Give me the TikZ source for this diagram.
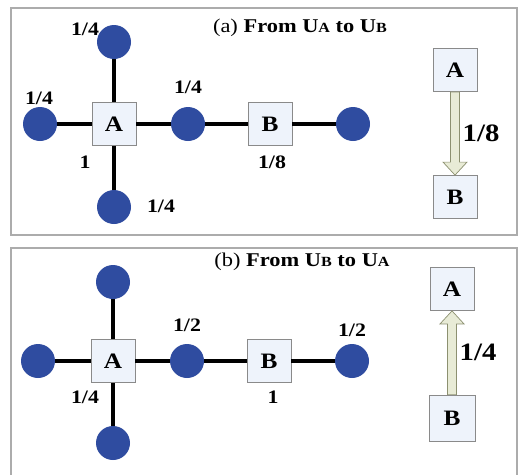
\documentclass[tikz,border=0pt]{standalone}
\usepackage{fontspec}
\setmainfont[FakeStretch=1.15]{Liberation Serif}
\usetikzlibrary{calc}
\definecolor{dotblue}{HTML}{2F4CA0}
\definecolor{boxfill}{HTML}{EEF3FB}
\definecolor{boxline}{HTML}{8A8A8A}
\definecolor{arrfill}{HTML}{E8EBD6}
\definecolor{arrline}{HTML}{8C9070}
\newcommand{\smc}[1]{{\fontsize{14}{14}\selectfont #1}}
\begin{document}
\begin{tikzpicture}[x=1pt,y=-1pt,
  dot/.style={circle,fill=dotblue,draw=none,minimum size=34pt,inner sep=0pt},
  sq/.style={rectangle,fill=boxfill,draw=boxline,line width=0.8pt,minimum width=44pt,minimum height=43pt,inner sep=0pt,font=\fontsize{22}{22}\selectfont\bfseries},
  edge/.style={line width=3.2pt,black},
  lbl/.style={inner sep=0pt,font=\fontsize{19}{19}\selectfont\bfseries},
  biglbl/.style={inner sep=0pt,font=\fontsize{25}{25}\selectfont\bfseries},
  ttl/.style={inner sep=0pt,font=\fontsize{19.5}{19.5}\selectfont},
  panel/.style={draw=gray!65,line width=1.2pt},
  fatarrow/.style={fill=arrfill,draw=arrline,line width=0.7pt,line join=miter}]
\useasboundingbox (0,0) rectangle (519,474);
\clip (0,0) rectangle (519,474);
% panels
\draw[panel] (11,8) rectangle (517,235);
\draw[panel] (11,248) rectangle (517,480);

% ---------- panel (a) ----------
\node[ttl] (ta) at (300,28) {(a) \textbf{From U\smc{A} to U\smc{B}}};
\node[dot] (at) at (114,42) {};
\node[dot] (al) at (40,124) {};
\node[dot] (ab) at (114,207) {};
\node[dot] (am) at (188,124) {};
\node[dot] (ar) at (353,124) {};
\node[sq] (aA) at (114,124) {A};
\node[sq] (aB) at (270,124) {B};
\draw[edge] (aA) -- (at);
\draw[edge] (aA) -- (al);
\draw[edge] (aA) -- (ab);
\draw[edge] (aA) -- (am);
\draw[edge] (am) -- (aB);
\draw[edge] (aB) -- (ar);
\node[lbl] (la1) at (85,29) {1/4};
\node[lbl] (la2) at (39,98) {1/4};
\node[lbl] (la3) at (85,162) {1};
\node[lbl] (la4) at (188,87) {1/4};
\node[lbl] (la5) at (272,162) {1/8};
\node[lbl] (la6) at (161,206) {1/4};
\node[sq] (xA) at (455,70) {A};
\node[sq] (xB) at (455,197) {B};
\draw[fatarrow] ([xshift=-4.5pt]xA.south) -- ([xshift=-4.5pt,yshift=13pt]xB.north)
  -- ([xshift=-12pt,yshift=13pt]xB.north) -- (xB.north)
  -- ([xshift=12pt,yshift=13pt]xB.north) -- ([xshift=4.5pt,yshift=13pt]xB.north)
  -- ([xshift=4.5pt]xA.south) -- cycle;
\node[biglbl] (xl) at (481,133) {1/8};

% ---------- panel (b) ----------
\node[ttl] (tb) at (302,262) {(b) \textbf{From U\smc{B} to U\smc{A}}};
\node[dot] (bt) at (113,282) {};
\node[dot] (bl) at (38,361) {};
\node[dot] (bb) at (113,443) {};
\node[dot] (bm) at (187,361) {};
\node[dot] (br) at (352,361) {};
\node[sq] (bA) at (113,361) {A};
\node[sq] (bB) at (269,361) {B};
\draw[edge] (bA) -- (bt);
\draw[edge] (bA) -- (bl);
\draw[edge] (bA) -- (bb);
\draw[edge] (bA) -- (bm);
\draw[edge] (bm) -- (bB);
\draw[edge] (bB) -- (br);
\node[lbl] (lb1) at (187,325) {1/2};
\node[lbl] (lb2) at (352,330) {1/2};
\node[lbl] (lb3) at (85,397) {1/4};
\node[lbl] (lb4) at (273,397) {1};
\node[sq] (yA) at (452,289) {A};
\node[sq,minimum width=46pt,minimum height=46pt] (yB) at (452,418) {B};
\draw[fatarrow] ([xshift=-4.5pt]yB.north) -- ([xshift=-4.5pt,yshift=-13pt]yA.south)
  -- ([xshift=-12pt,yshift=-13pt]yA.south) -- (yA.south)
  -- ([xshift=12pt,yshift=-13pt]yA.south) -- ([xshift=4.5pt,yshift=-13pt]yA.south)
  -- ([xshift=4.5pt]yB.north) -- cycle;
\node[biglbl] (yl) at (478,352) {1/4};
\end{tikzpicture}
\end{document}
